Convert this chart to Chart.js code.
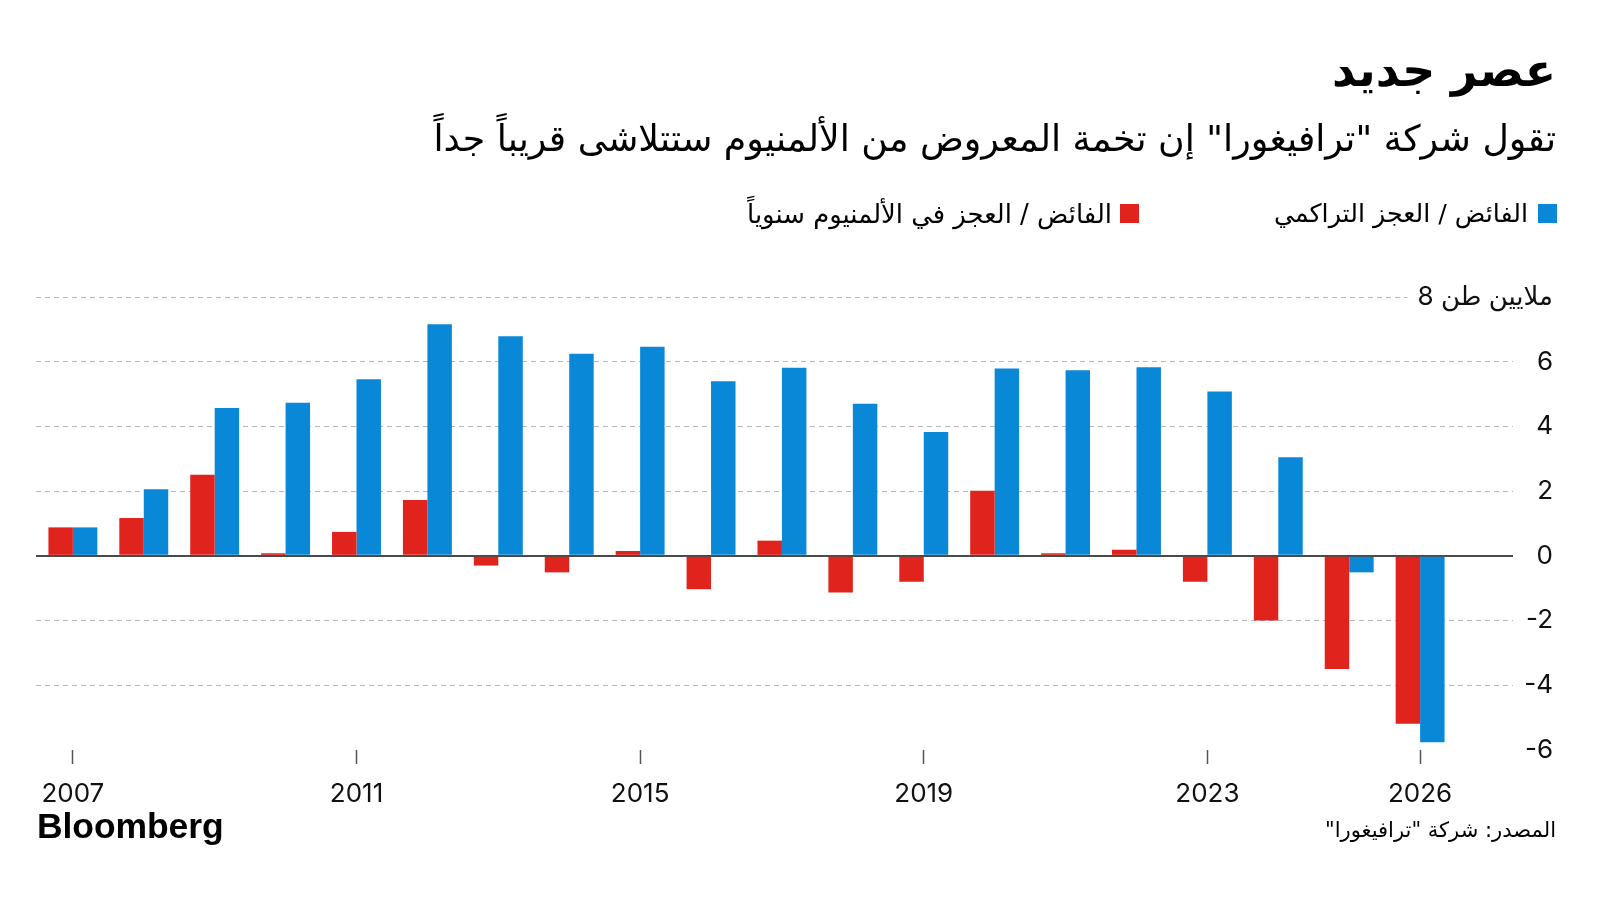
<!DOCTYPE html>
<html><head><meta charset="utf-8">
<script src="https://cdn.jsdelivr.net/npm/chart.js@4.4.1/dist/chart.umd.min.js"></script>
<style>
html,body{margin:0;padding:0;background:#fff;}
#wrap{position:relative;width:1600px;height:901px;overflow:hidden;background:#fff;}
canvas{position:absolute;left:0;top:0;}
.t{position:absolute;white-space:nowrap;direction:rtl;font-family:"DejaVu Sans",sans-serif;color:#000;line-height:1.2;}
.sq{position:absolute;width:19px;height:19px;}
#logo{position:absolute;left:37px;top:805px;font-family:"Liberation Sans",Arial,sans-serif;font-weight:bold;font-size:35.5px;letter-spacing:-0.1px;color:#000;line-height:1.2;}
</style></head><body>
<div id="wrap">
<canvas id="c" width="1600" height="901"></canvas>
<div class="t" id="title" style="right:44px;top:43px;font-weight:bold;" data-w="224">عصر جديد</div>
<div class="t" id="sub" style="right:44px;top:117px;" data-w="1122">تقول شركة "ترافيغورا" إن تخمة المعروض من الألمنيوم ستتلاشى قريباً جداً</div>
<div class="sq" style="left:1538px;top:204px;background:#0A88D8;"></div>
<div class="t" id="leg1" style="right:72px;top:199px;" data-w="254">الفائض / العجز التراكمي</div>
<div class="sq" style="left:1120px;top:204px;background:#E0231C;"></div>
<div class="t" id="leg2" style="right:488px;top:199px;" data-w="365">الفائض / العجز في الألمنيوم سنوياً</div>
<div class="t" id="src" style="right:44px;top:817px;" data-w="231">المصدر: شركة "ترافيغورا"</div>
<div id="logo">Bloomberg</div>
</div>
<script>
const years = [2007,2008,2009,2010,2011,2012,2013,2014,2015,2016,2017,2018,2019,2020,2021,2022,2023,2024,2025,2026];
const annualBalance = [0.88,1.17,2.51,0.08,0.74,1.73,-0.30,-0.51,0.15,-1.03,0.47,-1.13,-0.80,2.01,0.08,0.19,-0.80,-2.00,-3.50,-5.19];
const cumulativeBalance = [0.88,2.06,4.57,4.73,5.46,7.16,6.79,6.25,6.46,5.40,5.81,4.70,3.83,5.79,5.74,5.83,5.08,3.05,-0.51,-5.76];
const xTickYears = [2007,2011,2015,2019,2023,2026];
const yTickValues = [-6,-4,-2,0,2,4,6,8];
const yUnitLabel = 'ملايين طن';

// fit HTML texts to measured widths
document.querySelectorAll('.t[data-w]').forEach(el => {
  const target = +el.dataset.w;
  let fs = 30;
  el.style.fontSize = fs + 'px';
  for (let i = 0; i < 6; i++) {
    const w = el.getBoundingClientRect().width;
    fs = fs * target / w;
    el.style.fontSize = fs + 'px';
  }
});

const tickFont = {family: 'Inter, "DejaVu Sans", sans-serif', size: 26};

new Chart(document.getElementById('c'), {
  type: 'bar',
  data: {
    datasets: [
      {label: 'الفائض / العجز في الألمنيوم سنوياً', data: years.map((y,i)=>({x:y, y:annualBalance[i]})), backgroundColor: '#E0231C'},
      {label: 'الفائض / العجز التراكمي', data: years.map((y,i)=>({x:y, y:cumulativeBalance[i]})), backgroundColor: '#0A88D8'}
    ]
  },
  options: {
    responsive: false,
    animation: false,
    devicePixelRatio: 1,
    categoryPercentage: 0.69,
    barPercentage: 1.0,
    layout: {padding: {top: 297, left: 36, right: 47, bottom: 91}},
    plugins: {legend: {display: false}, tooltip: {enabled: false}, title: {display: false}},
    scales: {
      x: {
        type: 'linear',
        position: 'bottom',
        offset: false,
        min: 2006.48,
        max: 2027.31,
        afterBuildTicks: (s) => { s.ticks = xTickYears.map(v => ({value: v})); },
        afterFit: (s) => { s.height = 60; },
        ticks: {autoSkip: false, maxRotation: 0, font: tickFont, color: '#111', padding: 15,
                callback: (v) => String(v)},
        grid: {offset: false, drawOnChartArea: false, drawTicks: true, tickLength: 14, tickColor: '#555', tickWidth: 1.5},
        border: {display: false}
      },
      y: {
        type: 'linear',
        position: 'right',
        min: -6,
        max: 8,
        afterBuildTicks: (s) => { s.ticks = yTickValues.map(v => ({value: v})); },
        afterFit: (s) => { s.width = 40; },
        ticks: {font: tickFont, color: '#111', mirror: true, padding: 40, crossAlign: 'near',
                showLabelBackdrop: true, backdropColor: '#fff', backdropPadding: {left: 10, right: 0, top: 2, bottom: 2},
                callback: (v) => v === 8 ? v + ' ' + yUnitLabel : String(v)},
        grid: {
          drawTicks: false,
          color: (ctx) => ctx.tick && ctx.tick.value === 0 ? '#4a4a4a' : (ctx.tick && ctx.tick.value === -6 ? 'rgba(0,0,0,0)' : '#b8b8b8'),
          lineWidth: (ctx) => ctx.tick && ctx.tick.value === 0 ? 2 : 1
        },
        border: {display: false, dash: (ctx) => ctx.tick && ctx.tick.value === 0 ? [] : [5, 4]}
      }
    }
  }
});
</script>
</body></html>
